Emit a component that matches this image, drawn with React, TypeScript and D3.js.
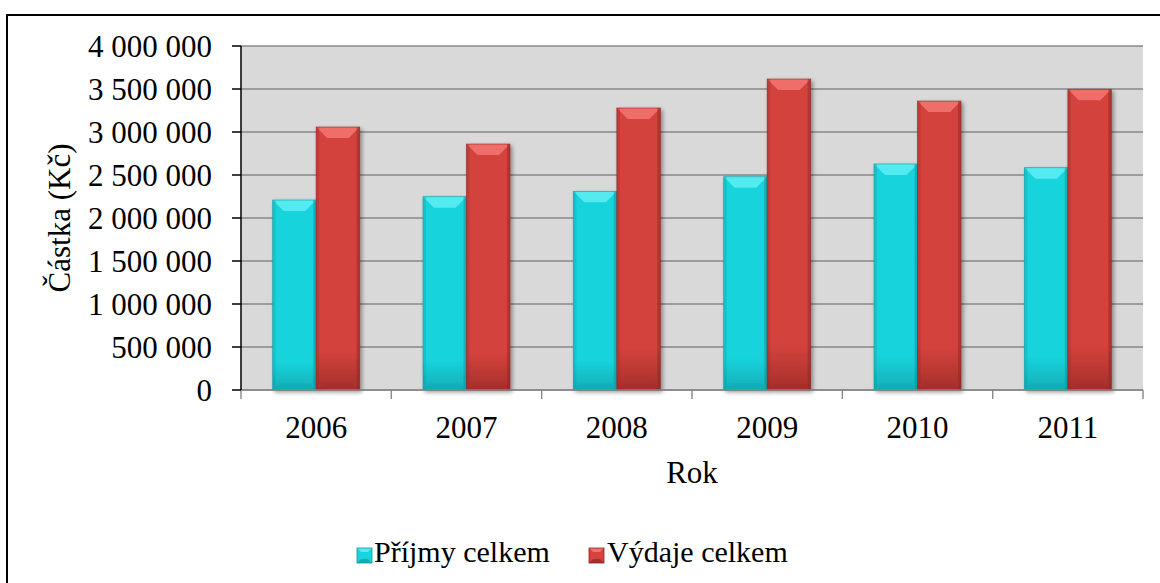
import React from "react";
import * as d3 from "d3";

const years = ["2006", "2007", "2008", "2009", "2010", "2011"];
const seriesNames = ["Příjmy celkem", "Výdaje celkem"];
const prijmy = [2209000, 2248000, 2310000, 2480000, 2628000, 2585000];
const vydaje = [3058000, 2860000, 3279000, 3616000, 3360000, 3496000];
const yTicks = [0, 500000, 1000000, 1500000, 2000000, 2500000, 3000000, 3500000, 4000000];

const W = 1160;
const H = 583;
const plot = { left: 241, right: 1143, top: 46, bottom: 390 };
const textStyle: React.CSSProperties = { fontFamily: "'Liberation Serif', serif", fontSize: "31px" };
const legendStyle: React.CSSProperties = { fontFamily: "'Liberation Serif', serif", fontSize: "30px" };

const palette = [
  { base: "#19D3DC", light: "#55EBF0", dark: "#10AEB6", edge: "#0E9AA2", id: "c" },
  { base: "#D4433D", light: "#F0716B", dark: "#A52F2B", edge: "#8E2724", id: "r" },
];

const fmt = (v: number) => d3.format(",")(v).replace(/,/g, "\u00A0");

function BevelBar({ x, y, w, h, p }: { x: number; y: number; w: number; h: number; p: number }) {
  const c = palette[p];
  const b = Math.min(11, h / 2, w / 3);
  const s = 3;
  return (
    <g filter="url(#shadow)">
      <rect x={x} y={y} width={w} height={h} fill={`url(#grad-${c.id})`} />
      <polygon points={`${x},${y} ${x + w},${y} ${x + w - b},${y + b} ${x + b},${y + b}`} fill={c.light} opacity={0.95} />
      <polygon points={`${x},${y + h} ${x + w},${y + h} ${x + w - b * 0.6},${y + h - b * 0.6} ${x + b * 0.6},${y + h - b * 0.6}`} fill={c.dark} opacity={0.45} />
      <rect x={x} y={y} width={s} height={h} fill={c.edge} opacity={0.3} />
      <rect x={x + w - s} y={y} width={s} height={h} fill={c.edge} opacity={0.5} />
      <rect x={x} y={y} width={w} height={h} fill="none" stroke={c.edge} strokeWidth={0.8} opacity={0.7} />
    </g>
  );
}

export default function App() {
  const x0 = d3
    .scaleBand<string>()
    .domain(years)
    .range([plot.left, plot.right])
    .paddingInner(0.4213)
    .paddingOuter(0.2106);
  const x1 = d3.scaleBand<number>().domain([0, 1]).range([0, x0.bandwidth()]).padding(0);
  const y = d3.scaleLinear().domain([0, 4000000]).range([plot.bottom, plot.top]);
  const step = x0.step();
  const series = [prijmy, vydaje];
  const boundaries = d3.range(years.length + 1).map((i) => plot.left + i * step);

  const legendItems = [
    { marker: 357, text: 374 },
    { marker: 589, text: 607 },
  ];

  return (
    <svg
      width={W}
      height={H}
      style={{ position: "fixed", left: 0, top: 0, background: "#fff", fontFamily: "'Liberation Serif', serif" }}
    >
      <defs>
        <filter id="shadow" x="-20%" y="-5%" width="150%" height="115%">
          <feGaussianBlur in="SourceAlpha" stdDeviation="2" />
          <feOffset dx="2" dy="2" result="ob" />
          <feComponentTransfer>
            <feFuncA type="linear" slope="0.4" />
          </feComponentTransfer>
          <feMerge>
            <feMergeNode />
            <feMergeNode in="SourceGraphic" />
          </feMerge>
        </filter>
        {palette.map((c) => (
          <linearGradient key={c.id} id={`grad-${c.id}`} x1="0" y1="0" x2="0" y2="1">
            <stop offset="0" stopColor={c.base} />
            <stop offset="0.85" stopColor={c.base} />
            <stop offset="1" stopColor={c.dark} />
          </linearGradient>
        ))}
      </defs>

      {/* outer border */}
      <rect x={7} y={15} width={W} height={H} fill="none" stroke="#000" strokeWidth={2} />

      {/* plot background */}
      <rect x={plot.left} y={plot.top} width={plot.right - plot.left} height={plot.bottom - plot.top} fill="#D9D9D9" />

      {/* gridlines */}
      {yTicks.map((t) => (
        <line key={t} x1={plot.left} x2={plot.right} y1={y(t)} y2={y(t)} stroke="#878787" strokeWidth={1.4} />
      ))}

      {/* bars */}
      {years.map((yr, i) => (
        <g key={yr}>
          {series.map((s, si) => (
            <BevelBar
              key={si}
              x={(x0(yr) as number) + (x1(si) as number)}
              y={y(s[i])}
              w={x1.bandwidth()}
              h={y(0) - y(s[i])}
              p={si}
            />
          ))}
        </g>
      ))}

      {/* x axis */}
      <line x1={plot.left} x2={plot.right} y1={plot.bottom} y2={plot.bottom} stroke="#878787" strokeWidth={1.4} />
      {boundaries.map((bx, i) => (
        <line key={i} x1={bx} x2={bx} y1={plot.bottom} y2={plot.bottom + 9} stroke="#878787" strokeWidth={1.4} />
      ))}
      {years.map((yr) => (
        <text
          key={yr}
          x={(x0(yr) as number) + x0.bandwidth() / 2}
          y={438}
          textAnchor="middle"
          style={textStyle}
          fill="#000"
        >
          {yr}
        </text>
      ))}

      {/* y axis */}
      <line x1={plot.left} x2={plot.left} y1={plot.top} y2={plot.bottom} stroke="#000" strokeWidth={1.5} />
      {yTicks.map((t) => (
        <g key={t}>
          <line x1={plot.left - 9} x2={plot.left} y1={y(t)} y2={y(t)} stroke="#000" strokeWidth={1.5} />
          <text x={212} y={y(t) + 10.5} textAnchor="end" style={textStyle} fill="#000">
            {fmt(t)}
          </text>
        </g>
      ))}

      {/* axis titles */}
      <text
        transform={`translate(70, ${(plot.top + plot.bottom) / 2}) rotate(-90)`}
        textAnchor="middle"
        style={textStyle}
        fill="#000"
      >
        Částka (Kč)
      </text>
      <text x={(plot.left + plot.right) / 2} y={483} textAnchor="middle" style={textStyle} fill="#000">
        Rok
      </text>

      {/* legend markers */}
      {seriesNames.map((name, i) => {
        const c = palette[i];
        const mx = legendItems[i].marker;
        const my = 548;
        const ms = 15;
        const b = 4;
        return (
          <g key={"m" + name}>
            <rect x={mx} y={my} width={ms} height={ms} fill={c.base} />
            <polygon points={`${mx},${my} ${mx + ms},${my} ${mx + ms - b},${my + b} ${mx + b},${my + b}`} fill={c.light} />
            <polygon points={`${mx},${my + ms} ${mx + ms},${my + ms} ${mx + ms - b},${my + ms - b} ${mx + b},${my + ms - b}`} fill={c.dark} />
            <rect x={mx} y={my} width={ms} height={ms} fill="none" stroke={c.edge} strokeWidth={0.8} />
          </g>
        );
      })}
      {/* legend labels */}
      {seriesNames.map((name, i) => (
        <text key={"t" + name} x={legendItems[i].text} y={562} style={legendStyle} fill="#000">
          {name}
        </text>
      ))}
    </svg>
  );
}
